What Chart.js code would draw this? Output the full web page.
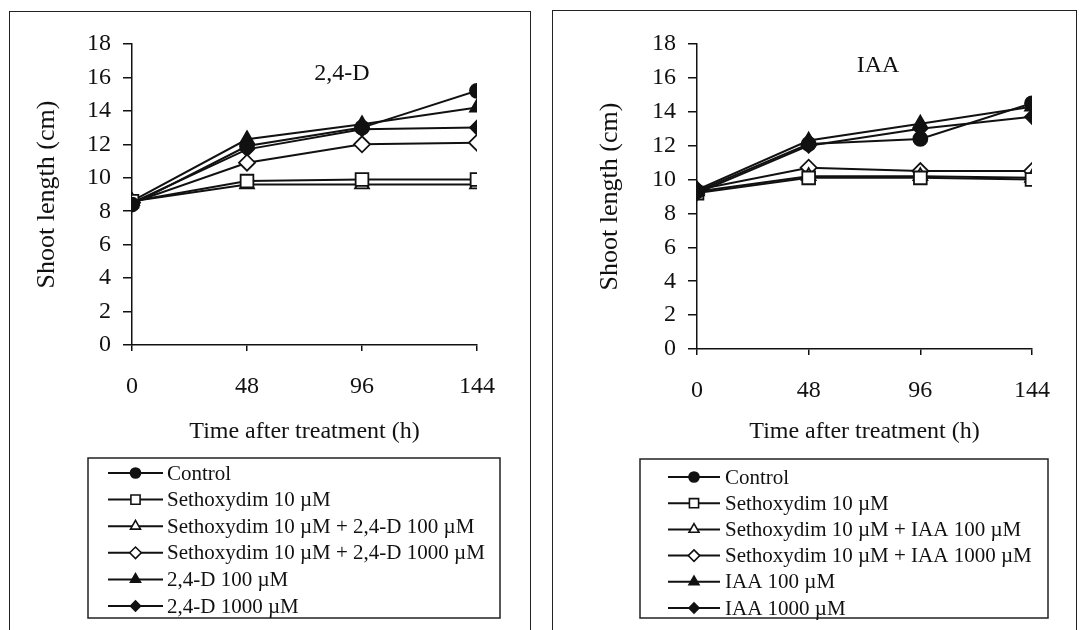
<!DOCTYPE html>
<html>
<head>
<meta charset="utf-8">
<script src="https://cdn.jsdelivr.net/npm/chart.js@4.4.1/dist/chart.umd.min.js"></script>
<style>
  html, body { margin: 0; padding: 0; background: #fff; }
  #page { position: relative; width: 1079px; height: 630px; overflow: hidden; }
  .frame { position: absolute; border: 1.5px solid #222; border-bottom: none; }
  .panel { position: absolute; top: 0; height: 630px; }
</style>
</head>
<body>
<div id="page">
  <div class="frame" style="left:9px; top:11px; width:520px; height:660px;"></div>
  <div class="frame" style="left:552px; top:10px; width:523px; height:660px;"></div>
  <div class="panel" style="left:0; width:540px;"><canvas id="left" width="540" height="630"></canvas></div>
  <div class="panel" style="left:540px; width:539px;"><canvas id="right" width="539" height="630"></canvas></div>
</div>
<script>
// time after treatment (h)
const hours = [0, 48, 96, 144];
const yTicks = [0, 2, 4, 6, 8, 10, 12, 14, 16, 18];

// 2,4-D panel (shoot length, cm)
const d_control   = [8.4, 11.9, 13.0, 15.2];
const d_seth      = [8.6, 9.8, 9.9, 9.9];
const d_seth100   = [8.6, 9.6, 9.6, 9.6];
const d_seth1000  = [8.5, 10.9, 12.0, 12.1];
const d_24d100    = [8.6, 12.3, 13.2, 14.2];
const d_24d1000   = [8.5, 11.7, 12.9, 13.0];
const d_labels = ['Control', 'Sethoxydim 10 \u00b5M', 'Sethoxydim 10 \u00b5M + 2,4-D 100 \u00b5M',
  'Sethoxydim 10 \u00b5M + 2,4-D 1000 \u00b5M', '2,4-D 100 \u00b5M', '2,4-D 1000 \u00b5M'];

// IAA panel (shoot length, cm)
const i_control   = [9.3, 12.1, 12.4, 14.5];
const i_seth      = [9.2, 10.1, 10.1, 10.0];
const i_seth100   = [9.3, 10.2, 10.2, 10.1];
const i_seth1000  = [9.4, 10.7, 10.5, 10.5];
const i_iaa100    = [9.4, 12.3, 13.3, 14.3];
const i_iaa1000   = [9.2, 12.0, 13.0, 13.7];
const i_labels = ['Control', 'Sethoxydim 10 \u00b5M', 'Sethoxydim 10 \u00b5M + IAA 100 \u00b5M',
  'Sethoxydim 10 \u00b5M + IAA 1000 \u00b5M', 'IAA 100 \u00b5M', 'IAA 1000 \u00b5M'];

const SERIF = '"Liberation Serif", "Times New Roman", serif';
const INK = '#111';

// marker look per series, same order in both panels
const markers = [
  { style: 'circle',   filled: true,  r: 7 },
  { style: 'rect',     filled: false, r: 9 },
  { style: 'triangle', filled: false, r: 8 },
  { style: 'rectRot',  filled: false, r: 8 },
  { style: 'triangle', filled: true,  r: 8 },
  { style: 'rectRot',  filled: true,  r: 7 }
];

function makeDatasets(series, labels) {
  return series.map((vals, i) => ({
    label: labels[i],
    data: hours.map((h, k) => ({ x: h, y: vals[k] })),
    borderColor: INK,
    borderWidth: 2,
    pointStyle: markers[i].style,
    pointRadius: markers[i].r,
    pointBackgroundColor: markers[i].filled ? INK : '#fff',
    pointBorderColor: INK,
    pointBorderWidth: 1.8,
    tension: 0,
    fill: false
  }));
}

// legend drawn as a boxed list, line + marker + text
const boxLegend = {
  id: 'boxLegend',
  afterDraw(chart, args, o) {
    const ctx = chart.ctx;
    ctx.save();
    ctx.strokeStyle = '#222';
    ctx.lineWidth = 1.5;
    ctx.strokeRect(o.x, o.y, o.w, o.h);
    ctx.font = '21px ' + SERIF;
    ctx.textBaseline = 'middle';
    chart.data.datasets.forEach((ds, i) => {
      const y = o.y + o.first + i * o.step;
      ctx.strokeStyle = INK;
      ctx.lineWidth = 2;
      ctx.beginPath();
      ctx.moveTo(o.x + o.lineFrom, y);
      ctx.lineTo(o.x + o.lineTo, y);
      ctx.stroke();
      ctx.fillStyle = ds.pointBackgroundColor;
      ctx.lineWidth = 1.6;
      Chart.helpers.drawPoint(ctx, {
        pointStyle: ds.pointStyle, radius: ds.pointRadius * 0.72, rotation: 0, borderWidth: 1.6
      }, o.x + (o.lineFrom + o.lineTo) / 2, y);
      ctx.fillStyle = INK;
      ctx.fillText(ds.label, o.x + o.textX, y + 1);
    });
    ctx.restore();
  }
};

const panelTitle = {
  id: 'panelTitle',
  afterDraw(chart, args, o) {
    const ctx = chart.ctx;
    ctx.save();
    ctx.font = '24px ' + SERIF;
    ctx.fillStyle = INK;
    ctx.textAlign = 'center';
    ctx.textBaseline = 'middle';
    ctx.fillText(o.text, o.x, o.y);
    ctx.restore();
  }
};

function makeChart(id, series, labels, p) {
  return new Chart(document.getElementById(id), {
    type: 'line',
    data: { datasets: makeDatasets(series, labels) },
    plugins: [boxLegend, panelTitle],
    options: {
      responsive: false,
      animation: false,
      layout: { padding: { left: p.padLeft, right: p.padRight, top: 44, bottom: 180 } },
      plugins: {
        legend: { display: false },
        tooltip: { enabled: false },
        boxLegend: p.legend,
        panelTitle: p.title
      },
      scales: {
        x: {
          type: 'linear',
          min: 0, max: 144,
          afterBuildTicks: s => { s.ticks = hours.map(v => ({ value: v })); },
          afterFit: s => { s.height = p.xHeight; },
          grid: { drawOnChartArea: false, drawTicks: true, tickLength: 6, color: INK, lineWidth: 1.5 },
          border: { display: true, color: INK, width: 1.5 },
          ticks: { color: INK, padding: 21, maxRotation: 0, font: { family: SERIF, size: 24 } },
          title: { display: true, text: 'Time after treatment (h)', color: INK, font: { family: SERIF, size: 24 } }
        },
        y: {
          min: 0, max: 18,
          afterBuildTicks: s => { s.ticks = yTicks.map(v => ({ value: v })); },
          afterFit: s => { s.width = p.yWidth; },
          grid: { drawOnChartArea: false, drawTicks: true, tickLength: 9, color: INK, lineWidth: 1.5 },
          border: { display: true, color: INK, width: 1.5 },
          ticks: { color: INK, padding: 12, font: { family: SERIF, size: 24 } },
          title: { display: true, text: 'Shoot length (cm)', color: INK, font: { family: SERIF, size: 26 } }
        }
      }
    }
  });
}

makeChart('left',
  [d_control, d_seth, d_seth100, d_seth1000, d_24d100, d_24d1000], d_labels,
  {
    padLeft: 28, padRight: 63, yWidth: 104, xHeight: 105,
    legend: { x: 88, y: 458, w: 412, h: 160, first: 15, step: 26.6, lineFrom: 20, lineTo: 75, textX: 79 },
    title: { text: '2,4-D', x: 342, y: 74 }
  });

makeChart('right',
  [i_control, i_seth, i_seth100, i_seth1000, i_iaa100, i_iaa1000], i_labels,
  {
    padLeft: 51, padRight: 47, yWidth: 106, xHeight: 101,
    legend: { x: 100, y: 459, w: 408, h: 159, first: 18, step: 26.2, lineFrom: 28, lineTo: 80, textX: 85 },
    title: { text: 'IAA', x: 338, y: 66 }
  });
</script>
</body>
</html>
